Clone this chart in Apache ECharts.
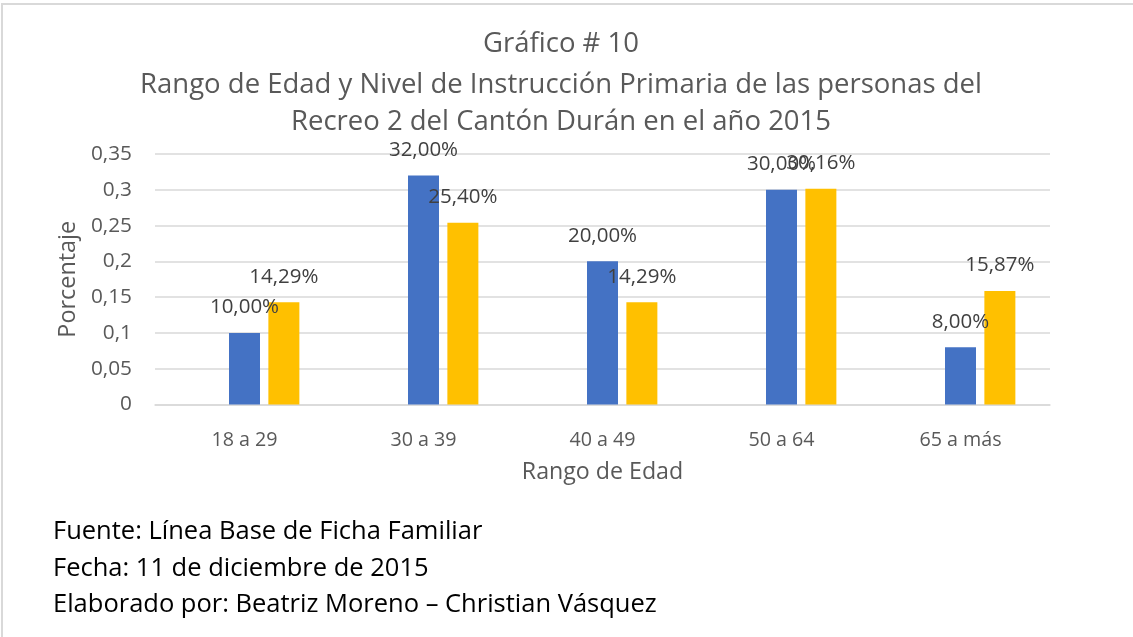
<!DOCTYPE html>
<html>
<head>
<meta charset="utf-8">
<script src="https://cdn.jsdelivr.net/npm/echarts@6/dist/echarts.min.js"></script>
<style>
html,body{margin:0;padding:0;background:#fff;}
#c{width:1133px;height:637px;}
</style>
</head>
<body>
<div id="c"></div>
<script>
// ---- data ----
const titleLines = [
  'Gráfico # 10',
  'Rango de Edad y Nivel de Instrucción Primaria de las personas del',
  'Recreo 2 del Cantón Durán en el año 2015'
];
const categories = ['18 a 29', '30 a 39', '40 a 49', '50 a 64', '65 a más'];
const seriesEmpty = [null, null, null, null, null];
const seriesBlue = [0.10, 0.32, 0.20, 0.30, 0.08];
const seriesOrange = [0.1429, 0.2540, 0.1429, 0.3016, 0.1587];
const yTicks = [0, 0.05, 0.1, 0.15, 0.2, 0.25, 0.3, 0.35];
const footerLines = [
  'Fuente: Línea Base de Ficha Familiar',
  'Fecha: 11 de diciembre de 2015',
  'Elaborado por: Beatriz Moreno – Christian Vásquez'
];
const xAxisTitle = 'Rango de Edad';
const yAxisTitle = 'Porcentaje';

// ---- chart ----
const FONT = '"Open Sans", "Noto Sans", sans-serif';
const chart = echarts.init(document.getElementById('c'));
const pct = v => (v * 100).toFixed(2).replace('.', ',') + '%';
const labelCfg = {
  show: true, position: 'top', distance: 15,
  color: '#404040', fontFamily: FONT, fontSize: 20.5,
  formatter: p => pct(p.value)
};
const titleY = [44, 85, 122];
const footerY = [532, 569, 605];
const graphics = [
  { type: 'rect', shape: { x: 2, y: 4, width: 1300, height: 800 }, style: { fill: 'none', stroke: '#d9d9d9', lineWidth: 2 }, silent: true }
];
titleLines.forEach((t, i) => graphics.push({
  type: 'text', x: 561, y: titleY[i],
  style: { text: t, fill: '#595959', font: '27.5px ' + FONT, textAlign: 'center', textVerticalAlign: 'middle' }
}));
footerLines.forEach((t, i) => graphics.push({
  type: 'text', x: 53, y: footerY[i],
  style: { text: t, fill: '#000000', font: '25.5px ' + FONT, textAlign: 'left', textVerticalAlign: 'middle' }
}));

chart.setOption({
  animation: false,
  backgroundColor: '#ffffff',
  grid: { left: 155, right: 83, top: 154, bottom: 232.5, containLabel: false },
  xAxis: {
    type: 'category', data: categories,
    name: xAxisTitle, nameLocation: 'middle', nameGap: 56,
    nameTextStyle: { color: '#595959', fontFamily: FONT, fontSize: 23.2 },
    axisLine: { lineStyle: { color: '#d9d9d9', width: 1.5 } },
    axisTick: { show: false },
    axisLabel: { color: '#595959', fontFamily: FONT, fontSize: 19.7, margin: 26 }
  },
  yAxis: {
    type: 'value', min: 0, max: 0.35, interval: 0.05,
    name: yAxisTitle, nameLocation: 'middle', nameGap: 72,
    nameTextStyle: { color: '#595959', fontFamily: FONT, fontSize: 23.4 },
    axisLine: { show: false }, axisTick: { show: false },
    splitLine: { lineStyle: { color: '#d9d9d9', width: 1.5 } },
    axisLabel: {
      color: '#595959', fontFamily: FONT, fontSize: 20.8, margin: 23,
      formatter: v => {
        const t = yTicks.find(k => Math.abs(k - v) < 1e-9);
        return String(+(t !== undefined ? t : v).toFixed(2)).replace('.', ',');
      }
    }
  },
  series: [
    { name: 'Serie 1', type: 'bar', data: seriesEmpty, barWidth: 31, barGap: '27%', itemStyle: { color: '#A5A5A5' } },
    { name: 'Serie 2', type: 'bar', data: seriesBlue, barWidth: 31, barGap: '27%', itemStyle: { color: '#4472C4' }, label: labelCfg },
    { name: 'Serie 3', type: 'bar', data: seriesOrange, barWidth: 31, barGap: '27%', itemStyle: { color: '#FFC000' }, label: labelCfg }
  ],
  graphic: graphics
});
</script>
</body>
</html>
